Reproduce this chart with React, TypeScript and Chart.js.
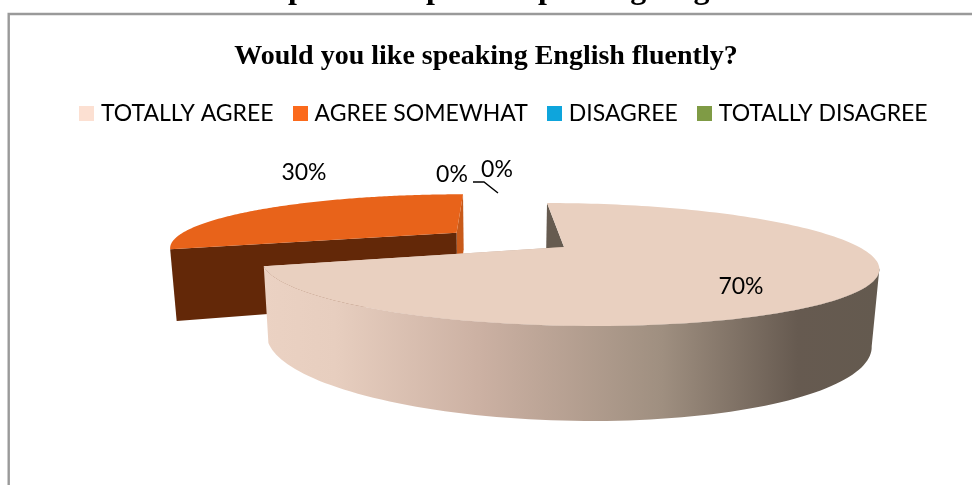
import React, { useEffect, useRef } from "react";
import { Chart, registerables } from "chart.js";

Chart.register(...registerables);

const categories = ["TOTALLY AGREE", "AGREE SOMEWHAT", "DISAGREE", "TOTALLY DISAGREE"];
const shares = [70, 30, 0, 0];
const legendColours = ["#FCE0D2", "#FB6A1C", "#0EA5DC", "#7F9B45"];
const topColours = ["#E9D0C0", "#E8631A", "#0EA5DC", "#7F9B45"];
const cutFaceColours = ["#665B50", "#632808", "#0A7AA0", "#5E7333"];
const endFaceColours = ["#665B50", "#C85A1A", "#0A7AA0", "#5E7333"];
const explode = [0, 0.46, 0, 0];

const heading = "Graph 10 : Aspect of speaking English";
const titleText = "Would you like speaking English fluently?";

// Perspective camera for the tilted pie, in canvas pixels.
const view = { cx: 564, cy: 247, a: 295, b: 56.5, k: 0.2846, shear: 0.386 };

function project(u: number, v: number): [number, number] {
  const w = 1 - view.k * v;
  const y = (view.b * v) / w;
  return [view.cx + (view.a * u) / w + view.shear * y, view.cy + y];
}

// Where a point of the top face lands on the lower rim of the pie.
function drop([x, y]: [number, number]): [number, number] {
  return [view.cx + 5 + (x - view.cx - 6.5) * 0.98, y + 71 + (24 * (y - view.cy)) / 79];
}

function fillPath(ctx: CanvasRenderingContext2D, pts: [number, number][], fill: string | CanvasGradient) {
  ctx.beginPath();
  pts.forEach(([x, y], i) => (i ? ctx.lineTo(x, y) : ctx.moveTo(x, y)));
  ctx.closePath();
  ctx.fillStyle = fill;
  ctx.fill();
}

const pie3d = {
  id: "pie3d",
  beforeDraw(chart: Chart) {
    const { ctx, width, height } = chart;
    ctx.save();
    ctx.strokeStyle = "#9a9a9a";
    ctx.lineWidth = 2.4;
    ctx.beginPath();
    ctx.moveTo(8.7, height + 2);
    ctx.lineTo(8.7, 14);
    ctx.lineTo(width + 2, 14);
    ctx.stroke();
    ctx.fillStyle = "#000";
    ctx.font = "bold 32px 'Liberation Serif'";
    ctx.textAlign = "left";
    ctx.textBaseline = "alphabetic";
    ctx.fillText(heading, 233, -2.5);
    ctx.restore();
  },
  beforeDatasetDraw() {
    // The flat arcs are replaced by the projected solids drawn below.
    return false;
  },
  afterDatasetsDraw(chart: Chart) {
    const { ctx } = chart;
    const arcs = chart.getDatasetMeta(0).data as any[];
    const order = arcs.map((_, i) => i).reverse();
    ctx.save();
    for (const i of order) {
      const arc = arcs[i];
      if (!shares[i]) continue;
      const from = arc.startAngle + Math.PI / 2;
      const to = arc.endAngle + Math.PI / 2;
      const mid = (from + to) / 2;
      const ox = Math.sin(mid) * explode[i];
      const oy = -Math.cos(mid) * explode[i];
      const rim: [number, number][] = [];
      const steps = 160;
      for (let s = 0; s <= steps; s++) {
        const t = from + ((to - from) * s) / steps;
        rim.push(project(ox + Math.sin(t), oy - Math.cos(t)));
      }
      const apex = project(ox, oy);
      const first = rim[0];
      const last = rim[rim.length - 1];

      // Faces exposed by the gap between the slices.
      if (i === 0) {
        fillPath(ctx, [first, apex, drop(apex), drop(first)], cutFaceColours[i]);
      } else {
        fillPath(ctx, [last, apex, drop(apex), drop(last)], endFaceColours[i]);
        fillPath(ctx, [first, apex, drop(apex), drop(first)], cutFaceColours[i]);
      }

      // Outer wall, from the rightmost rim point round the front, shaded left to right.
      if (i === 0) {
        const shade = ctx.createLinearGradient(261, 0, 878, 0);
        shade.addColorStop(0, "#EBD2C3");
        shade.addColorStop(0.12, "#E7CEBF");
        shade.addColorStop(0.36, "#CBB0A2");
        shade.addColorStop(0.65, "#9F8F80");
        shade.addColorStop(0.87, "#665A50");
        shade.addColorStop(1, "#645A4F");
        let right = 0;
        rim.forEach((p, s) => {
          if (p[0] > rim[right][0]) right = s;
        });
        const front = rim.slice(right);
        fillPath(ctx, [...front, ...front.map(drop).reverse()], shade);
        // Underlay so the wall and top face meet without a seam.
        fillPath(ctx, [apex, ...front], shade);
      }

      fillPath(ctx, [apex, ...rim], topColours[i]);
    }

    // Value labels and the leader line of the last slice.
    const labelAt: [number, number][] = [[741, 287], [304, 173], [452, 175], [497, 170]];
    ctx.fillStyle = "#000";
    ctx.font = "23px Lato";
    ctx.textAlign = "center";
    ctx.textBaseline = "middle";
    shares.forEach((v, i) => ctx.fillText(`${v}%`, labelAt[i][0], labelAt[i][1]));
    ctx.strokeStyle = "#000";
    ctx.lineWidth = 1.4;
    ctx.beginPath();
    ctx.moveTo(473, 182);
    ctx.lineTo(484, 182);
    ctx.lineTo(498, 193);
    ctx.stroke();
    ctx.restore();
  },
  afterLayout(chart: Chart) {
    // The key row sits a little right of the title's centre line.
    const legend = chart.legend as any;
    legend.left += 19.5;
    legend.right += 19.5;
  },
};

function swatch(colour: string) {
  const c = document.createElement("canvas");
  c.width = 15;
  c.height = 15;
  const g = c.getContext("2d")!;
  g.fillStyle = colour;
  g.fillRect(0, 0, 15, 15);
  return c;
}

export default function App() {
  const ref = useRef<HTMLCanvasElement>(null);
  useEffect(() => {
    const swatches = legendColours.map(swatch);
    const chart = new Chart(ref.current!, {
      type: "pie",
      data: {
        labels: categories,
        datasets: [{ data: shares, backgroundColor: legendColours, borderWidth: 0 }],
      },
      options: {
        animation: false,
        responsive: false,
        rotation: 0,
        layout: { padding: 0 },
        plugins: {
          tooltip: { enabled: false },
          title: {
            display: true,
            text: titleText,
            color: "#000",
            font: { family: "'Liberation Serif'", size: 28, weight: "bold" },
            padding: { top: 40, bottom: 5 },
          },
          legend: {
            position: "top",
            labels: {
              usePointStyle: true,
              pointStyleWidth: 6,
              boxHeight: 15,
              padding: 23.5,
              color: "#000",
              font: { family: "Lato", size: 23 },
              generateLabels: () =>
                categories.map((text, i) => ({
                  text,
                  index: i,
                  hidden: false,
                  fillStyle: legendColours[i],
                  strokeStyle: "transparent",
                  lineWidth: 0,
                  pointStyle: swatches[i],
                })),
            },
          },
        },
      },
      plugins: [pie3d],
    });
    return () => chart.destroy();
  }, []);
  return (
    <div style={{ position: "fixed", left: 0, top: 0, width: 972, height: 485, background: "#fff" }}>
      <canvas ref={ref} width={972} height={485} style={{ display: "block" }} />
    </div>
  );
}
